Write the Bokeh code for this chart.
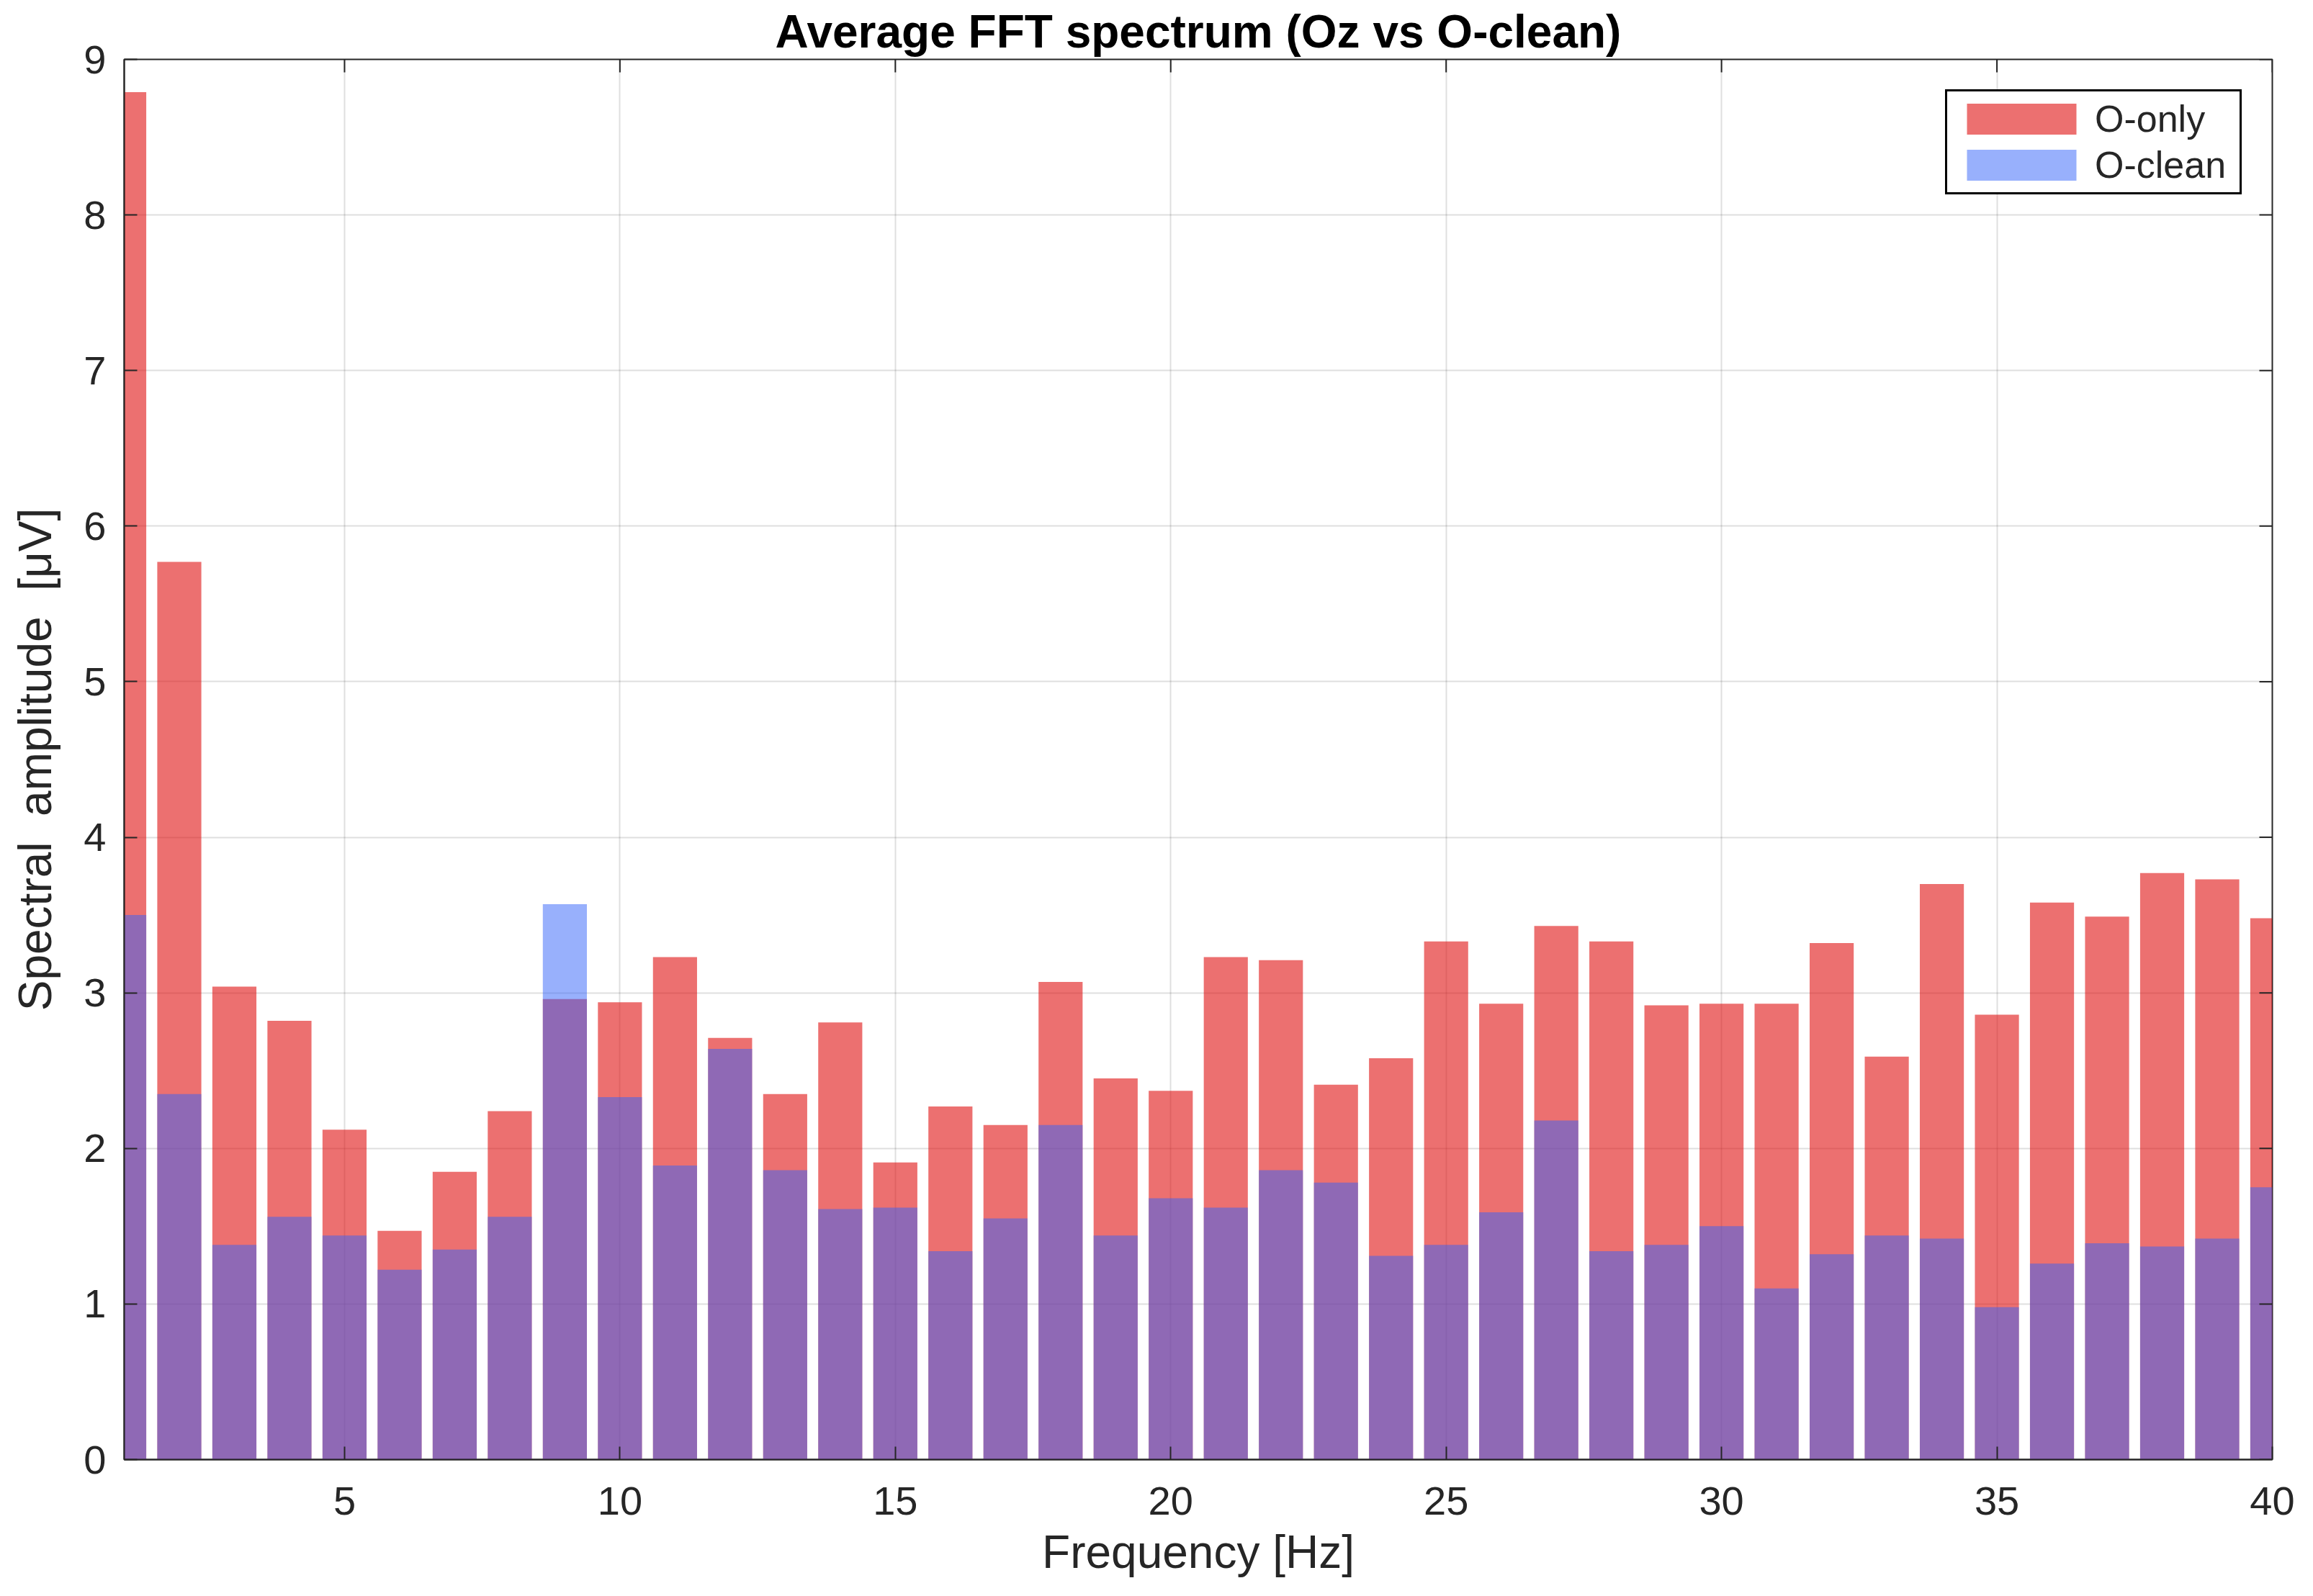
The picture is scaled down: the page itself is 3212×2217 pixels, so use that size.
from bokeh.plotting import figure
from bokeh.models import Range1d, FixedTicker
from bokeh.embed import file_html
from bokeh.resources import INLINE

freq = list(range(1, 41))
o_only = [8.79, 5.77, 3.04, 2.82, 2.12, 1.47, 1.85, 2.24, 2.96, 2.94,
          3.23, 2.71, 2.35, 2.81, 1.91, 2.27, 2.15, 3.07, 2.45, 2.37,
          3.23, 3.21, 2.41, 2.58, 3.33, 2.93, 3.43, 3.33, 2.92, 2.93,
          2.93, 3.32, 2.59, 3.70, 2.86, 3.58, 3.49, 3.77, 3.73, 3.48]
o_clean = [3.50, 2.35, 1.38, 1.56, 1.44, 1.22, 1.35, 1.56, 3.57, 2.33,
           1.89, 2.64, 1.86, 1.61, 1.62, 1.34, 1.55, 2.15, 1.44, 1.68,
           1.62, 1.86, 1.78, 1.31, 1.38, 1.59, 2.18, 1.34, 1.38, 1.50,
           1.10, 1.32, 1.44, 1.42, 0.98, 1.26, 1.39, 1.37, 1.42, 1.75]
x_ticks = [5, 10, 15, 20, 25, 30, 35, 40]
y_ticks = [0, 1, 2, 3, 4, 5, 6, 7, 8, 9]
x_lim = (1, 40)
y_lim = (0, 9)

FONT = "Liberation Sans"
TXT = "#262626"

p = figure(width=3196, height=2200,
           x_range=Range1d(*x_lim), y_range=Range1d(*y_lim),
           output_backend="svg", toolbar_location=None,
           min_border_left=172, min_border_right=41,
           min_border_top=82, min_border_bottom=173,
           title="Average FFT spectrum (Oz vs O-clean)")

p.vbar(x=freq, top=o_only, width=0.8, bottom=0,
       fill_color=(223, 17, 17), fill_alpha=0.6, line_color=None,
       legend_label="O-only")
p.vbar(x=freq, top=o_clean, width=0.8, bottom=0,
       fill_color=(49, 97, 249), fill_alpha=0.5, line_color=None,
       legend_label="O-clean")

# mirrored inward ticks on the top and right edges (MATLAB box style)
p.ray(x=x_ticks, y=[y_lim[1]] * len(x_ticks), length=18, length_units="screen",
      angle=-90, angle_units="deg", line_color="#262626", line_width=2)
p.ray(x=[x_lim[1]] * len(y_ticks), y=y_ticks, length=18, length_units="screen",
      angle=180, angle_units="deg", line_color="#262626", line_width=2)

# title
p.title.text_font = FONT
p.title.text_font_size = "64px"
p.title.text_font_style = "bold"
p.title.text_color = "#000000"
p.title.align = "center"
p.title.standoff = 6

# frame
p.outline_line_color = "#262626"
p.outline_line_width = 2
p.outline_line_alpha = 1.0

# grid
p.xgrid.ticker = FixedTicker(ticks=x_ticks)
p.ygrid.ticker = FixedTicker(ticks=y_ticks)
p.grid.grid_line_color = "#262626"
p.grid.grid_line_alpha = 0.15
p.grid.grid_line_width = 2

# axes
for ax in (p.xaxis[0], p.yaxis[0]):
    ax.major_label_text_font = FONT
    ax.major_label_text_font_size = "56px"
    ax.major_label_text_color = TXT
    ax.axis_label_text_font = FONT
    ax.axis_label_text_font_size = "64px"
    ax.axis_label_text_font_style = "normal"
    ax.axis_label_text_color = TXT
    ax.axis_line_color = "#262626"
    ax.axis_line_width = 2
    ax.major_tick_in = 18
    ax.major_tick_out = 0
    ax.major_tick_line_width = 2
    ax.major_tick_line_color = "#262626"
    ax.minor_tick_line_color = None

p.xaxis[0].ticker = FixedTicker(ticks=x_ticks)
p.yaxis[0].ticker = FixedTicker(ticks=y_ticks)
p.xaxis[0].axis_label = "Frequency [Hz]"
p.yaxis[0].axis_label = "Spectral\u00a0\u00a0amplitude\u00a0\u00a0[μV]"
p.xaxis[0].major_label_standoff = 38
p.yaxis[0].major_label_standoff = 25
p.xaxis[0].axis_label_standoff = 13
p.yaxis[0].axis_label_standoff = 28

# legend
lg = p.legend[0]
lg.location = "top_right"
lg.margin = 42
lg.padding = 8
lg.spacing = 4
lg.glyph_width = 190
lg.glyph_height = 54
lg.label_standoff = 7
lg.label_width = 193
lg.label_text_font = FONT
lg.label_text_font_size = "52px"
lg.label_text_color = TXT
lg.label_height = 54
lg.border_line_color = "#000000"
lg.border_line_width = 3
lg.border_line_alpha = 1.0
lg.background_fill_color = "white"
lg.background_fill_alpha = 1.0

open("out.html", "w").write(file_html(p, INLINE))
